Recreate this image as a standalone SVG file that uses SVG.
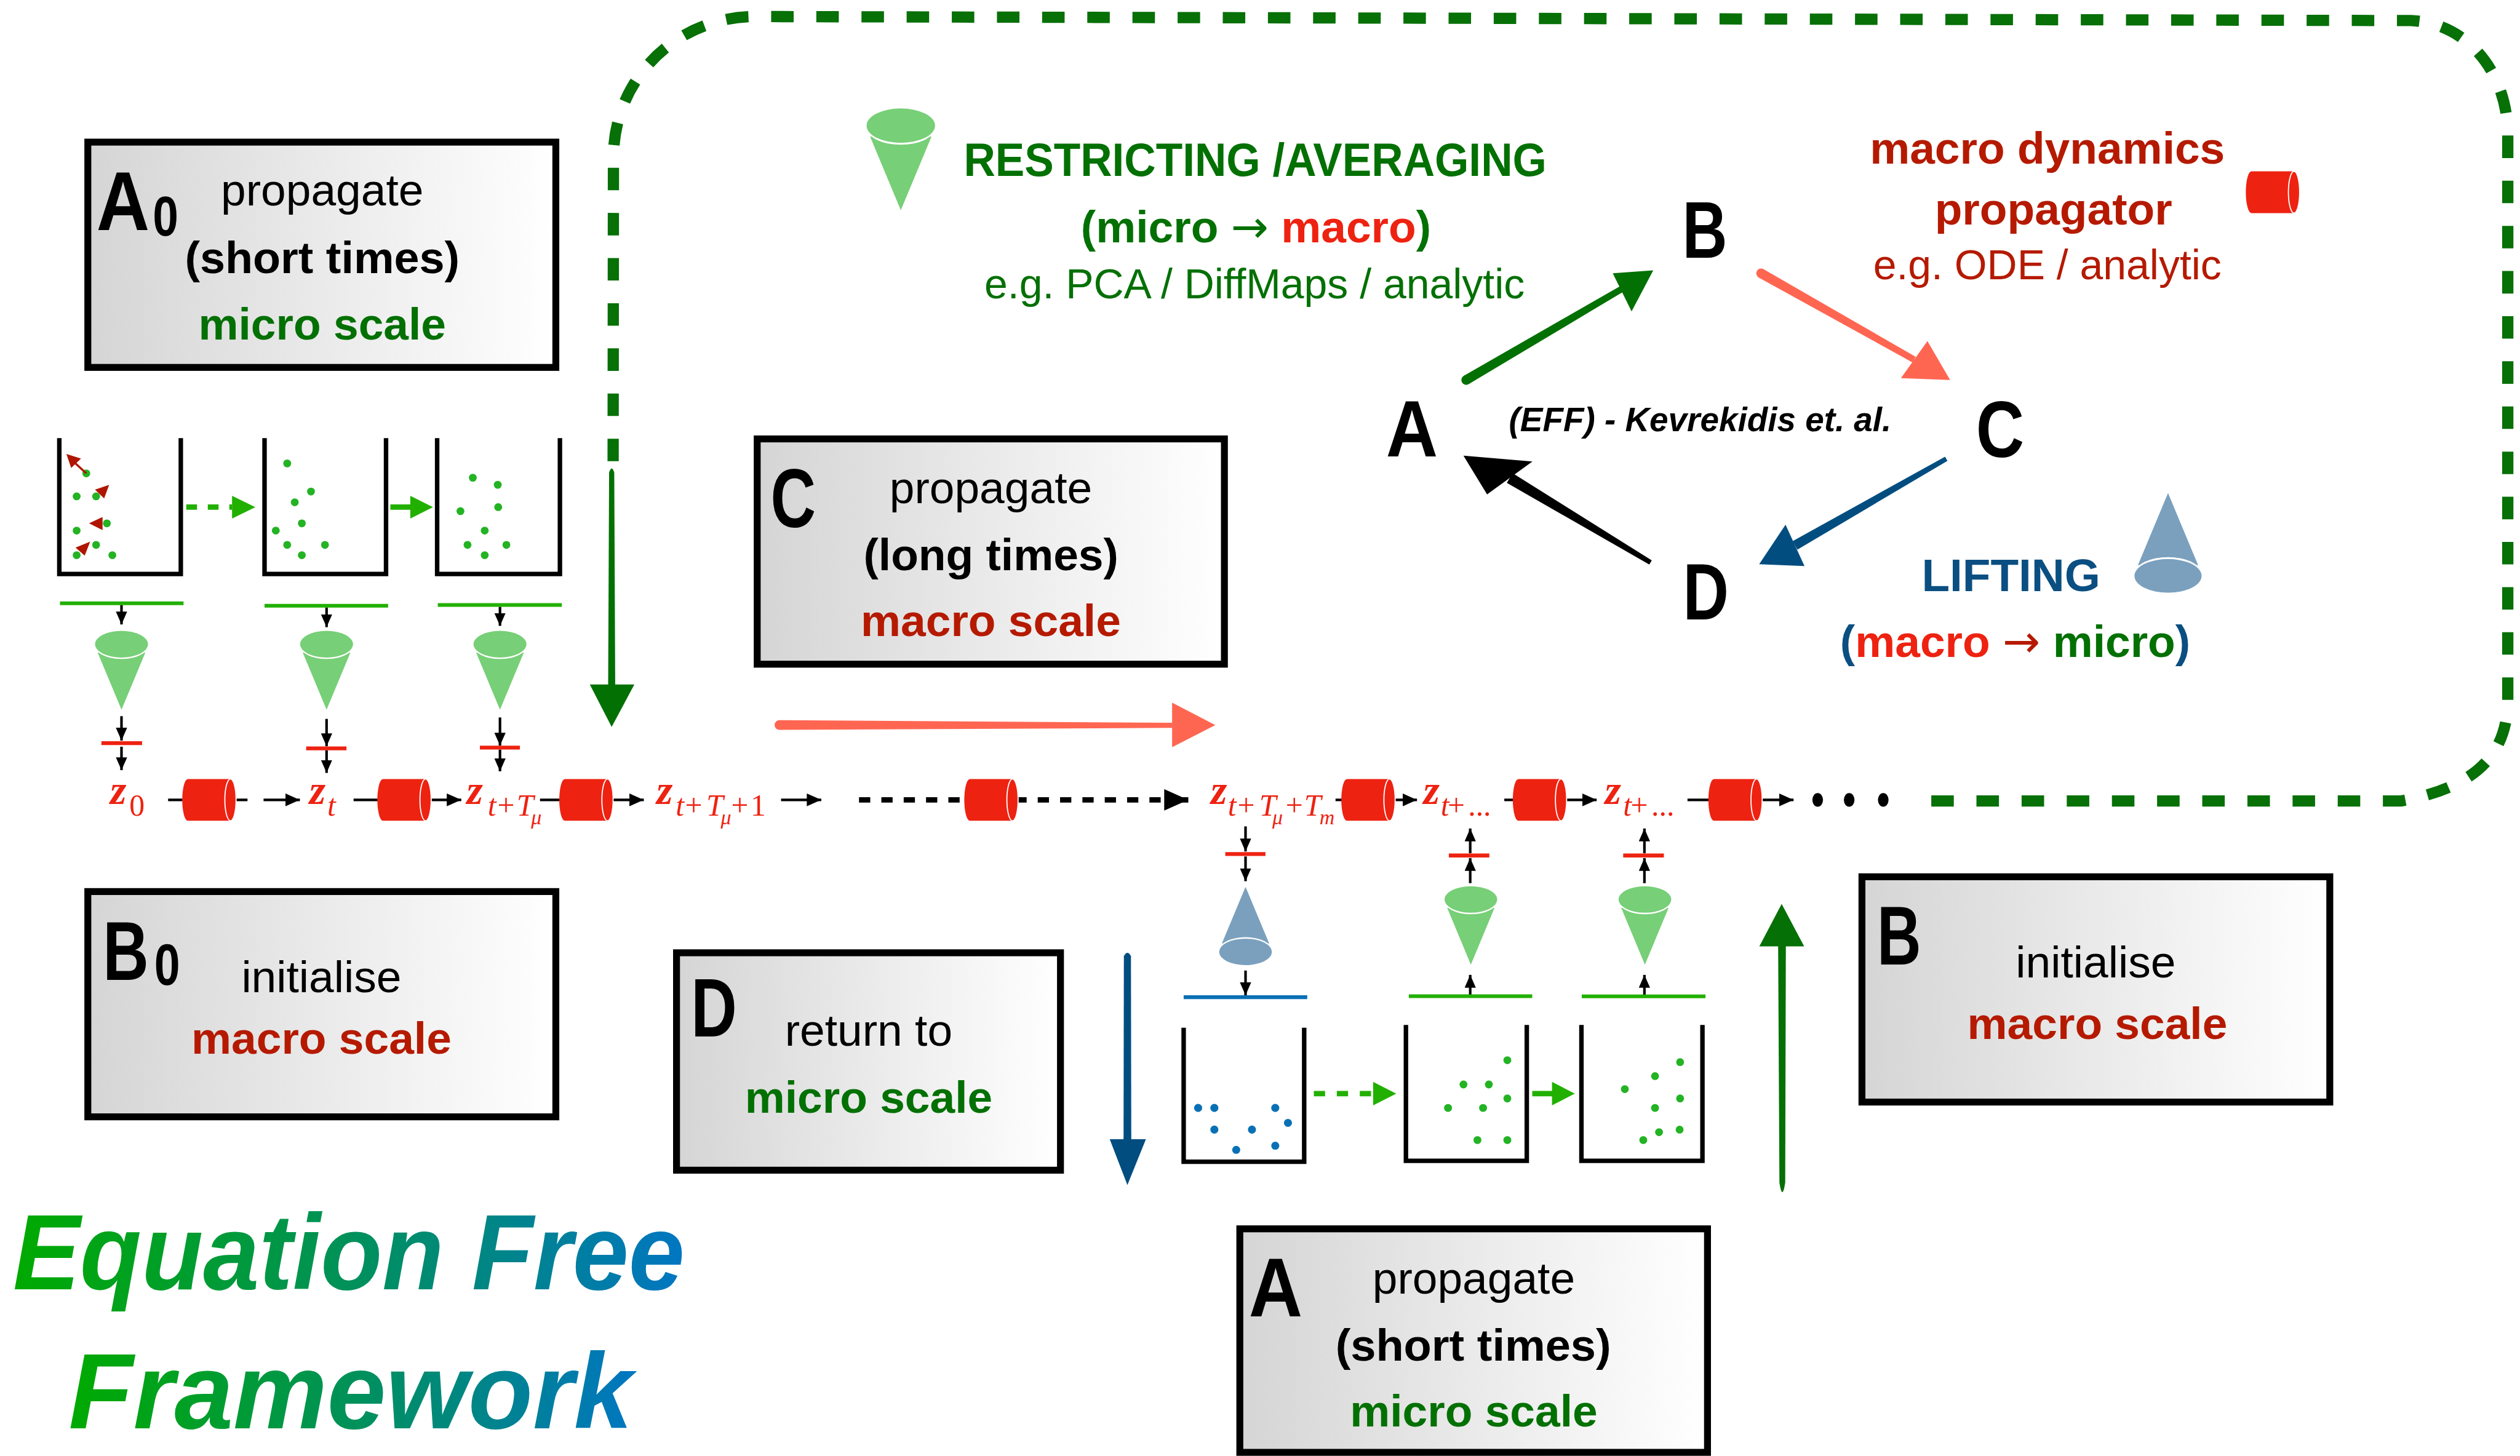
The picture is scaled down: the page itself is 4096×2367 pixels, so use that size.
<svg xmlns="http://www.w3.org/2000/svg" width="4096" height="2367" viewBox="0 0 4096 2367">
<style>
  .box { fill: url(#boxfill); stroke: #000; stroke-width: 4.3; }
  .t { font-family: 'Liberation Sans', Arial, sans-serif; }
  .b { font-weight: bold; }
  .f28 { font-size: 28px; }
  .big { font-size: 52px; font-weight: bold; fill: #000; }
  .mid { text-anchor: middle; }
  .dg { fill: #037003; }
  .dr { fill: #b51a00; }
  .rr { fill: #ee2211; }
  .bt { fill: #0b4f82; }
  .arr { font-family: 'DejaVu Sans', sans-serif; font-weight: normal; }
  .math { font-family: 'Liberation Serif', 'Times New Roman', serif; fill: #ee2211; }
  .zb { font-weight: bold; font-style: italic; font-size: 26px; }
  .sb { font-size: 19px; }
  .ss { font-size: 13px; font-style: italic; }
  .it { font-style: italic; }
  .ln { stroke: #000; stroke-width: 1.6; fill: none; }
  .gbar { stroke: #22b000; stroke-width: 2.3; }
  .rbar { stroke: #ee2211; stroke-width: 2.4; }
  .bbar { stroke: #0a70b5; stroke-width: 2.4; }
  .beaker { fill: none; stroke: #000; stroke-width: 2.8; }
  .gdot { fill: #23b323; }
  .bdot { fill: #0a70b5; }
  .redcyl { fill: #ee2211; }
</style>
<defs>
  <linearGradient id="boxfill" x1="0" y1="0" x2="1" y2="0">
    <stop offset="0" stop-color="#d5d5d5"/>
    <stop offset="1" stop-color="#ffffff"/>
  </linearGradient>
  <linearGradient id="titlefill" x1="0" y1="0" x2="1" y2="0">
    <stop offset="0" stop-color="#00aa00"/>
    <stop offset="0.5" stop-color="#00915a"/>
    <stop offset="1" stop-color="#0076c2"/>
  </linearGradient>
  <marker id="ah" viewBox="0 0 9 8" refX="9" refY="4" markerWidth="9" markerHeight="8" orient="auto" markerUnits="userSpaceOnUse">
    <path d="M0,0 L9,4 L0,8 Z" fill="#000"/>
  </marker>
  <marker id="av" viewBox="0 0 8 7" refX="8" refY="3.5" markerWidth="8" markerHeight="7" orient="auto" markerUnits="userSpaceOnUse">
    <path d="M0,0 L8,3.5 L0,7 Z" fill="#000"/>
  </marker>
  <marker id="ahBig" viewBox="0 0 15 13.4" refX="15" refY="6.7" markerWidth="15" markerHeight="13.4" orient="auto" markerUnits="userSpaceOnUse">
    <path d="M0,0 L15,6.7 L0,13.4 Z" fill="#000"/>
  </marker>
  <!-- averaging cone: cap ellipse at origin, tip pointing down -->
  <g id="coneG">
    <polygon points="-19.1,6.8 19.1,6.8 0,52.6" fill="#77cf77"/>
    <ellipse cx="0" cy="1.2" rx="21.3" ry="10.7" fill="#fff"/>
    <ellipse cx="0" cy="0" rx="21.3" ry="10.7" fill="#77cf77"/>
  </g>
  <g id="coneB">
    <polygon points="-19.1,6.8 19.1,6.8 0,52.6" fill="#7aa0be"/>
    <ellipse cx="0" cy="1.2" rx="21.3" ry="10.7" fill="#fff"/>
    <ellipse cx="0" cy="0" rx="21.3" ry="10.7" fill="#7aa0be"/>
  </g>
  <!-- macro propagator cylinder, left edge at x=0, axis at y=0 -->
  <g id="cyl">
    <path class="redcyl" d="M3.5,-13 H30 V13 H3.5 A3.5,13 0 0 1 3.5,-13 Z"/>
    <ellipse class="redcyl" cx="30" cy="0" rx="3.5" ry="13" stroke="#fff" stroke-width="0.7"/>
  </g>
</defs>

<rect width="4096" height="2367" fill="#fff"/>

<g transform="scale(2.61224)">

  <!-- feedback loop (dashed) -->
  <g id="connectors">
    <path d="M381.5,287 L381.7,98 C381.7,49 421,10.3 470,10.3 L1500,12.8 C1535,14 1560.4,45 1560.4,84 L1560.4,435 C1560.4,470 1540,490 1494,498.5 L1199,498.5" fill="none" stroke="#077007" stroke-width="7" stroke-dasharray="14 14.1"/>

    <!-- big green down arrow into the chain -->
    <path d="M379,294 Q380.6,289 382.2,294 L382.8,427 L378.4,427 Z" fill="#037003"/>
    <polygon points="367,426 394.7,426 380.6,452.4" fill="#037003"/>

    <!-- big green up arrow (right) -->
    <path d="M1106.4,588 L1111.2,588 L1110.8,736 Q1109,748 1107.2,736 Z" fill="#057005"/>
    <polygon points="1094.7,589 1122.6,589 1108.6,562.5" fill="#057005"/>

    <!-- blue down arrow -->
    <path d="M699.3,595 Q701.5,591 703.7,595 L703.9,710 L699.1,710 Z" fill="#024d80"/>
    <polygon points="690.5,709 713,709 701.5,737.5" fill="#024d80"/>

    <!-- salmon long-time arrow -->
    <path d="M485,448.2 L729.5,449.8 L729.5,453 L485,454.2 A3,3 0 0 1 485,448.2 Z" fill="#ff6652"/>
    <polygon points="729.3,437.3 729.3,465 756.2,451.2" fill="#ff6652"/>

    <!-- EFF cycle arrows -->
    <polygon points="910.78,233.91 1008.39,177.87 1010.41,181.33 913.82,239.09" fill="#037003"/>
    <circle cx="912.3" cy="236.5" r="3" fill="#037003"/>
    <polygon points="1003.5,170.1 1015.2,193.8 1028.7,168.2" fill="#037003"/>

    <polygon points="1097.27,167.49 1191.98,222.06 1190.02,225.54 1094.33,172.71" fill="#ff6652"/>
    <circle cx="1095.8" cy="170.1" r="3" fill="#ff6652"/>
    <polygon points="1182.8,235.3 1199.3,212.3 1213.4,236.5" fill="#ff6652"/>

    <polygon points="1210.25,284.2 1115.41,336.8 1118.39,342 1211.75,286.8" fill="#024d80"/>
    <polygon points="1111,326.5 1122.8,352.3 1094.6,351.1" fill="#024d80"/>

    <polygon points="1027.77,348.71 941.2,294.5 937.6,300.5 1026.23,351.29" fill="#000"/>
    <polygon points="925.3,307.7 953.5,287.2 910.6,283.6" fill="#000"/>

    <!-- macro chain links -->
    <path class="ln" d="M104.6,497.8 H113.5 M147,497.8 H154" stroke-width="1.8"/>
    <path class="ln" d="M164,497.8 H186.6" marker-end="url(#ah)" stroke-width="1.8"/>
    <path class="ln" d="M220,497.8 H235" stroke-width="1.8"/>
    <path class="ln" d="M268,497.8 H287" marker-end="url(#ah)" stroke-width="1.8"/>
    <path class="ln" d="M336,497.8 H349" stroke-width="1.8"/>
    <path class="ln" d="M381,497.8 H400.6" marker-end="url(#ah)" stroke-width="1.8"/>
    <path class="ln" d="M486,497.8 H511" marker-end="url(#ah)" stroke-width="1.8"/>
    <path d="M534.5,497.8 H726" fill="none" stroke="#000" stroke-width="3.4" stroke-dasharray="7 6.9"/>
    <path d="M726,497.8 H739.4" fill="none" stroke="#000" stroke-width="3.4" marker-end="url(#ahBig)"/>
    <path class="ln" d="M831,497.8 H836" stroke-width="1.8"/>
    <path class="ln" d="M866,497.8 H881.7" marker-end="url(#ah)" stroke-width="1.8"/>
    <path class="ln" d="M936,497.8 H942" stroke-width="1.8"/>
    <path class="ln" d="M972,497.8 H993.5" marker-end="url(#ah)" stroke-width="1.8"/>
    <path class="ln" d="M1050,497.8 H1064" stroke-width="1.8"/>
    <path class="ln" d="M1094,497.8 H1116" marker-end="url(#ah)" stroke-width="1.8"/>

    <!-- restriction arrows (top row) -->
    <path class="ln" d="M75.6,376.5 V388.6" marker-end="url(#av)"/>
    <path class="ln" d="M75.6,445.7 V460.9" marker-end="url(#av)"/>
    <path class="ln" d="M75.6,464.7 V479.3" marker-end="url(#av)"/>
    <path class="ln" d="M203.2,378 V390.3" marker-end="url(#av)"/>
    <path class="ln" d="M203.2,447.4 V464.4" marker-end="url(#av)"/>
    <path class="ln" d="M203.2,466.9 V481" marker-end="url(#av)"/>
    <path class="ln" d="M311.1,377.6 V389.5" marker-end="url(#av)"/>
    <path class="ln" d="M311.1,446.5 V464" marker-end="url(#av)"/>
    <path class="ln" d="M311.1,466.5 V480" marker-end="url(#av)"/>

    <!-- lifting / restriction arrows (bottom row) -->
    <path class="ln" d="M775,514.3 V529.9" marker-end="url(#av)"/>
    <path class="ln" d="M775,533 V548.4" marker-end="url(#av)"/>
    <path class="ln" d="M775,604 V619.4" marker-end="url(#av)"/>
    <path class="ln" d="M914.8,619.5 V606.7" marker-end="url(#av)"/>
    <path class="ln" d="M914.8,549.6 V534" marker-end="url(#av)"/>
    <path class="ln" d="M914.8,531 V515.6" marker-end="url(#av)"/>
    <path class="ln" d="M1023.2,619.5 V606.7" marker-end="url(#av)"/>
    <path class="ln" d="M1023.2,549.6 V534" marker-end="url(#av)"/>
    <path class="ln" d="M1023.2,531 V515.6" marker-end="url(#av)"/>

    <!-- micro propagation arrows -->
    <path d="M115.9,315.6 H144.4" stroke="#22b000" stroke-width="3.4" stroke-dasharray="6.7 6.7"/>
    <polygon points="144.4,308.5 144.4,322.7 158.9,315.6" fill="#22b000"/>
    <path d="M242.9,315.6 H256" stroke="#22b000" stroke-width="3.4"/>
    <polygon points="255.3,308.5 255.3,322.7 269.4,315.6" fill="#22b000"/>
    <path d="M817.5,680.6 H854.4" stroke="#22b000" stroke-width="3.4" stroke-dasharray="7 7.3"/>
    <polygon points="854.4,673.3 854.4,687.9 868.8,680.6" fill="#22b000"/>
    <path d="M953.4,680.6 H966" stroke="#22b000" stroke-width="3.4"/>
    <polygon points="965.7,673.3 965.7,687.9 979.9,680.6" fill="#22b000"/>
  </g>

  <!-- nodes: step boxes -->
  <g id="box-a0" class="t">
    <rect class="box" x="54.65" y="88.45" width="291.2" height="140.2"/>
    <text class="big" transform="translate(60,143) scale(0.88,1)">A</text>
    <text class="b" transform="translate(95,146.5) scale(0.82,1)" font-size="35">0</text>
    <text class="f28 mid" x="200.5" y="128">propagate</text>
    <text class="f28 b mid" x="200.5" y="170" textLength="171" lengthAdjust="spacingAndGlyphs">(short times)</text>
    <text class="f28 b mid dg" x="200.5" y="211.4">micro scale</text>
  </g>

  <g id="box-c" class="t">
    <rect class="box" x="471.15" y="273.15" width="290.7" height="140.2"/>
    <text class="big" transform="translate(479.5,328.2) scale(0.75,1)">C</text>
    <text class="f28 mid" x="616.5" y="313">propagate</text>
    <text class="f28 b mid" x="616.6" y="355">(long times)</text>
    <text class="f28 b mid dr" x="616.5" y="396">macro scale</text>
  </g>

  <g id="box-b0" class="t">
    <rect class="box" x="54.65" y="554.85" width="291.2" height="140.2"/>
    <text class="big" transform="translate(64,609.7) scale(0.76,1)">B</text>
    <text class="b" transform="translate(96,613) scale(0.8,1)" font-size="36">0</text>
    <text class="f28 mid" x="200" y="617.6">initialise</text>
    <text class="f28 b mid dr" x="200" y="655.6">macro scale</text>
  </g>

  <g id="box-d" class="t">
    <rect class="box" x="420.95" y="592.95" width="238.9" height="135.3"/>
    <text class="big" transform="translate(430,645.2) scale(0.76,1)">D</text>
    <text class="f28 mid" x="540.5" y="650.8">return to</text>
    <text class="f28 b mid dg" x="540.5" y="692.6">micro scale</text>
  </g>

  <g id="box-a" class="t">
    <rect class="box" x="771.45" y="764.75" width="291.0" height="139.1"/>
    <text class="big" transform="translate(777,819.4) scale(0.89,1)" font-size="51">A</text>
    <text class="f28 mid" x="917" y="804.9">propagate</text>
    <text class="f28 b mid" x="916.7" y="846.6" textLength="171.5" lengthAdjust="spacingAndGlyphs">(short times)</text>
    <text class="f28 b mid dg" x="917" y="887.7">micro scale</text>
  </g>

  <g id="box-b" class="t">
    <rect class="box" x="1158.55" y="545.65" width="291.1" height="140.2"/>
    <text class="big" transform="translate(1168,600.3) scale(0.73,1)">B</text>
    <text class="f28 mid" x="1304" y="608.4">initialise</text>
    <text class="f28 b mid dr" x="1305" y="646.5">macro scale</text>
  </g>

  <!-- micro ensembles (top row) -->
  <g id="ensemble-1">
    <path class="beaker" d="M36.9,272.7 V357.2 H112.5 V272.7"/>
    <circle class="gdot" cx="53.7" cy="294.6" r="2.45"/>
    <circle class="gdot" cx="47.7" cy="308.9" r="2.45"/>
    <circle class="gdot" cx="59.8" cy="308.9" r="2.45"/>
    <circle class="gdot" cx="66.5" cy="325.7" r="2.45"/>
    <circle class="gdot" cx="47.7" cy="330.2" r="2.45"/>
    <circle class="gdot" cx="59.8" cy="339.1" r="2.45"/>
    <circle class="gdot" cx="47.7" cy="345.5" r="2.45"/>
    <circle class="gdot" cx="69.9" cy="345.5" r="2.45"/>
    <path d="M53.7,294.6 L46.4,287.9" stroke="#b01500" stroke-width="1.3"/>
    <polygon points="41.3,282.5 50.4,285.4 44.3,291.2" fill="#b01500"/>
    <polygon points="59.1,304.7 64.8,310.2 67.9,301.8" fill="#b01500"/>
    <polygon points="55.4,325.7 63.8,321.8 63.8,329.9" fill="#b01500"/>
    <polygon points="47,340.8 52.7,345.8 56.1,337.1" fill="#b01500"/>
  </g>
  <g id="ensemble-2">
    <path class="beaker" d="M164.6,272.7 V357.2 H240.2 V272.7"/>
    <circle class="gdot" cx="178.7" cy="288.4" r="2.45"/>
    <circle class="gdot" cx="193.5" cy="305.9" r="2.45"/>
    <circle class="gdot" cx="183.4" cy="312.6" r="2.45"/>
    <circle class="gdot" cx="187.8" cy="325.7" r="2.45"/>
    <circle class="gdot" cx="171.6" cy="330.2" r="2.45"/>
    <circle class="gdot" cx="178.7" cy="339.1" r="2.45"/>
    <circle class="gdot" cx="202.2" cy="339.1" r="2.45"/>
    <circle class="gdot" cx="187.8" cy="345.5" r="2.45"/>
  </g>
  <g id="ensemble-3">
    <path class="beaker" d="M272,272.7 V357.2 H348.4 V272.7"/>
    <circle class="gdot" cx="294.2" cy="297.3" r="2.45"/>
    <circle class="gdot" cx="309.7" cy="301.7" r="2.45"/>
    <circle class="gdot" cx="286.5" cy="318.1" r="2.45"/>
    <circle class="gdot" cx="310" cy="315.6" r="2.45"/>
    <circle class="gdot" cx="301.6" cy="330.2" r="2.45"/>
    <circle class="gdot" cx="290.9" cy="339.1" r="2.45"/>
    <circle class="gdot" cx="315.1" cy="339.1" r="2.45"/>
    <circle class="gdot" cx="301.6" cy="345.5" r="2.45"/>
  </g>

  <!-- restriction stages (top row) -->
  <g id="restrict-1">
    <line class="gbar" x1="37.3" y1="375.4" x2="114.2" y2="375.4"/>
    <use href="#coneG" transform="translate(75.6,400.9) scale(0.775)"/>
    <line class="rbar" x1="63.1" y1="462.5" x2="88.4" y2="462.5"/>
  </g>
  <g id="restrict-2">
    <line class="gbar" x1="164.6" y1="377" x2="241.5" y2="377"/>
    <use href="#coneG" transform="translate(203.2,400.9) scale(0.775)"/>
    <line class="rbar" x1="190.5" y1="465.7" x2="215.6" y2="465.7"/>
  </g>
  <g id="restrict-3">
    <line class="gbar" x1="272.4" y1="376.5" x2="349.6" y2="376.5"/>
    <use href="#coneG" transform="translate(311.1,400.9) scale(0.775)"/>
    <line class="rbar" x1="298.6" y1="465.25" x2="323.5" y2="465.25"/>
  </g>

  <!-- macro chain: propagators -->
  <g id="propagators">
    <use href="#cyl" transform="translate(113.4,497.8)"/>
    <use href="#cyl" transform="translate(234.8,497.8)"/>
    <use href="#cyl" transform="translate(348,497.8)"/>
    <use href="#cyl" transform="translate(600,497.8)"/>
    <use href="#cyl" transform="translate(834.6,497.8)"/>
    <use href="#cyl" transform="translate(941.3,497.8)"/>
    <use href="#cyl" transform="translate(1063,497.8)"/>
    <ellipse cx="1131" cy="497.8" rx="3.3" ry="4.3"/>
    <ellipse cx="1150.6" cy="497.8" rx="3.3" ry="4.3"/>
    <ellipse cx="1171.8" cy="497.8" rx="3.3" ry="4.3"/>
  </g>

  <!-- macro chain: states -->
  <g id="states" class="math">
    <text x="68.5" y="500.2"><tspan class="zb">z</tspan><tspan class="sb" x="80.5" y="507.5">0</tspan></text>
    <text x="192.5" y="500.2"><tspan class="zb">z</tspan><tspan class="sb it" x="203.7" y="507.5">t</tspan></text>
    <text x="290.4" y="500.2"><tspan class="zb">z</tspan><tspan class="sb it" x="303.5" y="507.5">t</tspan><tspan class="sb" x="309.5">+</tspan><tspan class="sb it" x="321.5">T</tspan><tspan class="ss" x="330.5" y="513">μ</tspan></text>
    <text x="408.5" y="500.2"><tspan class="zb">z</tspan><tspan class="sb it" x="420.4" y="507.5">t</tspan><tspan class="sb" x="426.3">+</tspan><tspan class="sb it" x="439.5">T</tspan><tspan class="ss" x="448.5" y="513">μ</tspan><tspan class="sb" x="455" y="507.5">+</tspan><tspan class="sb" x="467">1</tspan></text>
    <text x="753.4" y="500.2"><tspan class="zb">z</tspan><tspan class="sb it" x="764" y="507.5">t</tspan><tspan class="sb" x="770">+</tspan><tspan class="sb it" x="783.5">T</tspan><tspan class="ss" x="791.7" y="513">μ</tspan><tspan class="sb" x="800" y="507.5">+</tspan><tspan class="sb it" x="811.5">T</tspan><tspan class="ss" x="821" y="513">m</tspan></text>
    <text x="885.6" y="500.2"><tspan class="zb">z</tspan><tspan class="sb it" x="896.5" y="507.5">t</tspan><tspan class="sb" x="900.8">+</tspan><tspan class="sb" x="913.5">...</tspan></text>
    <text x="998.6" y="500.2"><tspan class="zb">z</tspan><tspan class="sb it" x="1010" y="507.5">t</tspan><tspan class="sb" x="1014.6">+</tspan><tspan class="sb" x="1027.5">...</tspan></text>
  </g>

  <!-- lifting and restriction stages (bottom row) -->
  <g id="lift-1">
    <line class="rbar" x1="762.4" y1="531.5" x2="787.4" y2="531.5"/>
    <use href="#coneB" transform="translate(775,592.4) scale(0.77,-0.77)"/>
    <line class="bbar" x1="736.5" y1="620.6" x2="813.4" y2="620.6"/>
  </g>
  <g id="restrict-4">
    <line class="rbar" x1="901.5" y1="532.4" x2="926.7" y2="532.4"/>
    <use href="#coneG" transform="translate(915.2,559.8) scale(0.77)"/>
    <line class="gbar" x1="876.6" y1="620" x2="953.4" y2="620"/>
  </g>
  <g id="restrict-5">
    <line class="rbar" x1="1010" y1="532.4" x2="1035.3" y2="532.4"/>
    <use href="#coneG" transform="translate(1023.5,559.8) scale(0.77)"/>
    <line class="gbar" x1="984.2" y1="620.1" x2="1061.2" y2="620.1"/>
  </g>

  <!-- micro ensembles (bottom row) -->
  <g id="ensemble-4">
    <path class="beaker" d="M736.5,639.6 V723 H811.5 V639.6"/>
    <circle class="bdot" cx="745.5" cy="689.5" r="2.5"/>
    <circle class="bdot" cx="755.6" cy="689.5" r="2.5"/>
    <circle class="bdot" cx="793.5" cy="689.5" r="2.5"/>
    <circle class="bdot" cx="801.4" cy="698.8" r="2.5"/>
    <circle class="bdot" cx="755.6" cy="703" r="2.5"/>
    <circle class="bdot" cx="779" cy="703" r="2.5"/>
    <circle class="bdot" cx="793.5" cy="713" r="2.5"/>
    <circle class="bdot" cx="769.2" cy="715.6" r="2.5"/>
  </g>
  <g id="ensemble-5">
    <path class="beaker" d="M874.8,637.9 V722.4 H950 V637.9"/>
    <circle class="gdot" cx="937.9" cy="659.8" r="2.45"/>
    <circle class="gdot" cx="910.6" cy="674.9" r="2.45"/>
    <circle class="gdot" cx="926.4" cy="674.9" r="2.45"/>
    <circle class="gdot" cx="937.9" cy="683.6" r="2.45"/>
    <circle class="gdot" cx="901" cy="689.5" r="2.45"/>
    <circle class="gdot" cx="922.8" cy="689.5" r="2.45"/>
    <circle class="gdot" cx="919.3" cy="709.5" r="2.45"/>
    <circle class="gdot" cx="937.9" cy="709.5" r="2.45"/>
  </g>
  <g id="ensemble-6">
    <path class="beaker" d="M984,637.9 V722.4 H1059.3 V637.9"/>
    <circle class="gdot" cx="1045.4" cy="661" r="2.45"/>
    <circle class="gdot" cx="1029.8" cy="669.7" r="2.45"/>
    <circle class="gdot" cx="1011" cy="677.8" r="2.45"/>
    <circle class="gdot" cx="1045.4" cy="683.6" r="2.45"/>
    <circle class="gdot" cx="1029.8" cy="689.5" r="2.45"/>
    <circle class="gdot" cx="1032.3" cy="704.6" r="2.45"/>
    <circle class="gdot" cx="1045.1" cy="703" r="2.45"/>
    <circle class="gdot" cx="1022.5" cy="709.5" r="2.45"/>
  </g>

  <!-- legend: restricting / averaging -->
  <g id="legend-restrict" class="t">
    <use href="#coneG" transform="translate(560.5,78.2)"/>
    <text class="b mid dg" x="781" y="109.3" font-size="29" textLength="362.7" lengthAdjust="spacingAndGlyphs">RESTRICTING /AVERAGING</text>
    <text class="f28 b mid dg" x="781.5" y="150.8">(micro <tspan class="arr">→</tspan> <tspan class="rr">macro</tspan>)</text>
    <text class="mid dg" x="780.6" y="185.8" font-size="26">e.g. PCA / DiffMaps / analytic</text>
  </g>

  <!-- legend: macro propagator -->
  <g id="legend-propagator" class="t">
    <text class="f28 b mid dr" x="1273.9" y="102">macro dynamics</text>
    <text class="f28 b mid dr" x="1277.7" y="139.9">propagator</text>
    <text class="mid dr" x="1273.9" y="173.7" font-size="26">e.g. ODE / analytic</text>
    <use href="#cyl" transform="translate(1397.4,119.6)"/>
  </g>

  <!-- legend: lifting -->
  <g id="legend-lift" class="t">
    <use href="#coneB" transform="translate(1349,358.4) scale(0.98,-0.98)"/>
    <text class="b mid bt" x="1251.3" y="368" font-size="28.6">LIFTING</text>
    <text class="f28 b mid bt" x="1253.9" y="409">(<tspan class="rr">macro</tspan><tspan class="dr"> <tspan class="arr">→</tspan> </tspan><tspan class="dg">micro</tspan>)</text>
  </g>

  <!-- EFF cycle labels -->
  <g id="cycle" class="t">
    <text class="b mid" x="878.5" y="284" font-size="50" textLength="32.3" lengthAdjust="spacingAndGlyphs">A</text>
    <text class="b mid" x="1060.8" y="160.4" font-size="50" textLength="28" lengthAdjust="spacingAndGlyphs">B</text>
    <text class="b mid" x="1244.5" y="284.5" font-size="50" textLength="30" lengthAdjust="spacingAndGlyphs">C</text>
    <text class="b mid" x="1061.4" y="385.4" font-size="50" textLength="28.5" lengthAdjust="spacingAndGlyphs">D</text>
    <text class="b it mid" x="1057.9" y="268.5" font-size="21">(EFF) - Kevrekidis et. al.</text>
  </g>

  <!-- title -->
  <g id="title" class="t">
    <text class="b it" x="8" y="802.4" font-size="67" fill="url(#titlefill)" textLength="418" lengthAdjust="spacingAndGlyphs">Equation Free</text>
    <text class="b it" x="42.7" y="888.8" font-size="67" fill="url(#titlefill)" textLength="351" lengthAdjust="spacingAndGlyphs">Framework</text>
  </g>
</g>
</svg>
